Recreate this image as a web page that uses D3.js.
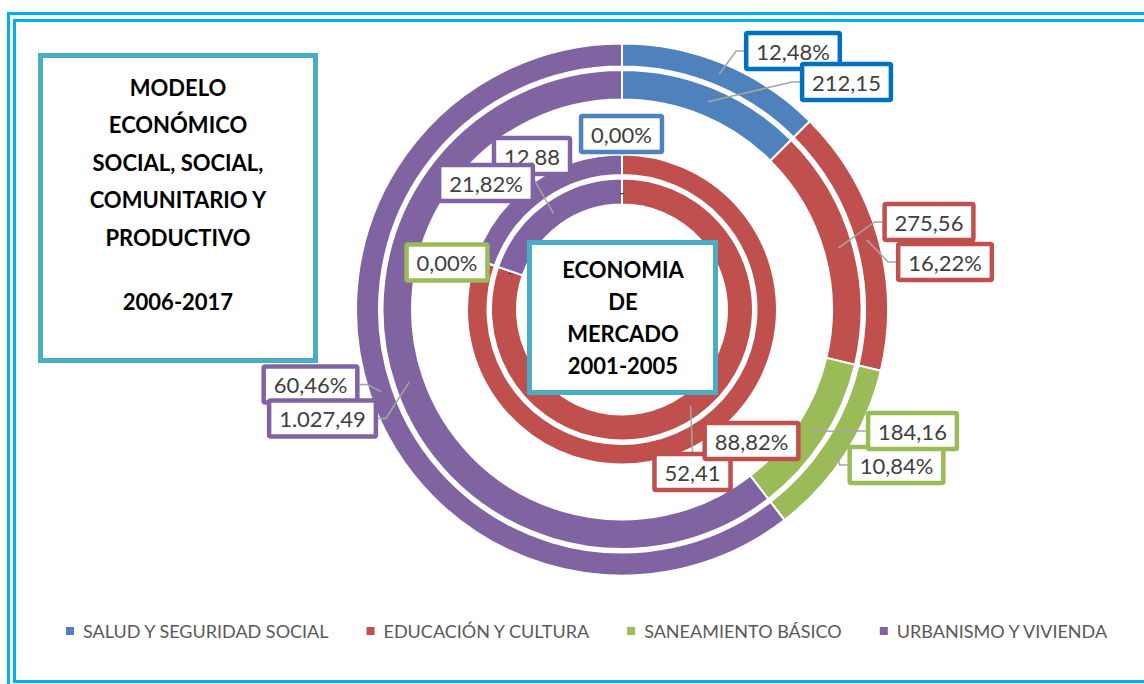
<!DOCTYPE html>
<html lang="es">
<head>
    <meta charset="UTF-8">
    <title>Modelo económico - doughnut</title>
    <script src="https://cdn.jsdelivr.net/npm/d3@7"></script>
    <style>
        html, body { margin: 0; padding: 0; background: #fff; }
        svg { display: block; }
    </style>
</head>
<body>
<div id="chart"></div>
<script>
    // categories and colours (Office palette)
    const categories = ['SALUD Y SEGURIDAD SOCIAL', 'EDUCACIÓN Y CULTURA', 'SANEAMIENTO BÁSICO', 'URBANISMO Y VIVIENDA'];
    const colors = ['#4F81BD', '#C0504D', '#9BBB59', '#8064A2'];

    // 2006-2017 (outer pair of rings)
    const pct2006 = [12.48, 16.22, 10.84, 60.46];
    const val2006 = [212.15, 275.56, 184.16, 1027.49];
    // 2001-2005 (inner pair of rings)
    const pct2001 = [0, 88.82, 0, 21.82];
    const val2001 = [0, 52.41, 0, 12.88];

    const titleLines = ['MODELO', 'ECONÓMICO', 'SOCIAL, SOCIAL,', 'COMUNITARIO Y', 'PRODUCTIVO', '2006-2017'];
    const centerLines = ['ECONOMIA', 'DE', 'MERCADO', '2001-2005'];

    const width = 1144, height = 684;
    const cx = 622, cy = 309.5;

    const svg = d3.select('#chart').append('svg')
        .attr('width', width)
        .attr('height', height);

    // double cyan frame
    svg.append('rect').attr('x', 8.5).attr('y', 13.5).attr('width', 1200).attr('height', 700)
        .attr('fill', 'none').attr('stroke', '#00B0F0').attr('stroke-width', 3);
    svg.append('rect').attr('x', 14.5).attr('y', 20.5).attr('width', 1200).attr('height', 661)
        .attr('fill', 'none').attr('stroke', '#00B0F0').attr('stroke-width', 3);

    const es = d3.formatLocale({decimal: ',', thousands: '.', grouping: [3], currency: ['', '']});
    const fmtNum = es.format(',.2f');
    const fmtPct = v => es.format('.2f')(v) + '%';

    // ring definitions: radii + data + label format
    const rings = [
        {key: 'p06', values: pct2006, r0: 243, r1: 266, fmt: fmtPct, boxColors: ['#0070C0', '#C0504D', '#9BBB59', '#8064A2']},
        {key: 'v06', values: val2006, r0: 210, r1: 239.5, fmt: fmtNum, boxColors: ['#0070C0', '#C0504D', '#9BBB59', '#8064A2']},
        {key: 'p01', values: pct2001, r0: 134.5, r1: 155, fmt: fmtPct, boxColors: colors},
        {key: 'v01', values: val2001, r0: 105, r1: 131, fmt: fmtNum, boxColors: colors}
    ];

    const pie = d3.pie().sort(null).value(d => d);

    const g = svg.append('g').attr('transform', `translate(${cx},${cy})`);

    rings.forEach(ring => {
        ring.arcs = pie(ring.values);
        ring.arc = d3.arc().innerRadius(ring.r0).outerRadius(ring.r1);
        ring.mid = d3.arc().innerRadius((ring.r0 + ring.r1) / 2).outerRadius((ring.r0 + ring.r1) / 2);
        g.append('g').selectAll('path')
            .data(ring.arcs)
            .join('path')
            .attr('d', ring.arc)
            .attr('fill', (d, i) => colors[i])
            .attr('stroke', '#fff')
            .attr('stroke-width', 2);
    });

    // label box placement (box centres, page coords)
    const labelPos = {
        p06: [[793, 51], [945, 262], [896.5, 465], [310.5, 384.5]],
        v06: [[846.5, 82], [929, 222], [912.5, 431], [322.5, 418.5]],
        p01: [[621.5, 134], [751.5, 441], [447, 262.5], [486, 183]],
        v01: [[null], [692.5, 472], [null], [532, 156]]
    };

    const labelFont = '22px Lato';
    const labels = svg.append('g');
    const lines = svg.append('g');

    // draw order as in the reference
    ['v01', 'p01', 'p06', 'v06'].forEach(k => {
        const ring = rings.find(r => r.key === k);
        ring.arcs.forEach((a, i) => {
            const c = ring.mid.centroid(a);
            const ax = cx + c[0], ay = cy + c[1];
            const pos = labelPos[k][i];
            if (ring.key[0] === 'v' && a.data === 0) {
                // zero value shown as a dash
                labels.append('text')
                    .attr('x', ax).attr('y', ay)
                    .attr('text-anchor', 'middle').attr('dominant-baseline', 'central')
                    .style('font', '16px Lato').attr('fill', '#404040')
                    .text('-');
                return;
            }
            const lg = labels.append('g');
            const t = lg.append('text')
                .attr('x', pos[0]).attr('y', pos[1])
                .attr('text-anchor', 'middle').attr('dominant-baseline', 'central')
                .style('font', labelFont).attr('fill', '#404040')
                .text(ring.fmt(a.data));
            const tw = t.node().getComputedTextLength();
            const bw = tw + 20, bh = 36;
            const bx = pos[0] - bw / 2, by = pos[1] - bh / 2;
            lg.insert('rect', 'text')
                .attr('x', bx).attr('y', by).attr('width', bw).attr('height', bh)
                .attr('fill', '#fff')
                .attr('stroke', ring.boxColors[i]).attr('stroke-width', 4.5)
                .attr('rx', 1.5);

            // leader line
            const bl = bx - 2, br = bx + bw + 2, bt = by - 2, bb = by + bh + 2;
            let pts = null;
            if (ax < bl) pts = [[ax, ay], [bl - 8, pos[1]], [bl, pos[1]]];
            else if (ax > br) pts = [[ax, ay], [br + 8, pos[1]], [br, pos[1]]];
            else if (ay < bt) pts = [[ax, ay], [pos[0], bt]];
            else if (ay > bb) pts = [[ax, ay], [pos[0], bb]];
            if (pts) {
                const last = pts[pts.length - 1];
                if (Math.hypot(last[0] - ax, last[1] - ay) > 16) {
                    lines.append('path')
                        .attr('d', d3.line()(pts))
                        .attr('fill', 'none')
                        .attr('stroke', '#A6A6A6')
                        .attr('stroke-width', 1.5);
                }
            }
        });
    });
    // label boxes sit above the leader lines
    labels.raise();

    // title box (left)
    svg.append('rect').attr('x', 40.5).attr('y', 55.5).attr('width', 275).attr('height', 305)
        .attr('fill', '#fff').attr('stroke', '#4BACC6').attr('stroke-width', 5);
    const titleY = [87, 124, 162, 199, 237, 301];
    svg.append('g').selectAll('text')
        .data(titleLines)
        .join('text')
        .attr('x', 178).attr('y', (d, i) => titleY[i])
        .attr('text-anchor', 'middle').attr('dominant-baseline', 'central')
        .style('font', 'bold 22px Lato').attr('fill', '#000')
        .text(d => d);

    // centre box
    svg.append('rect').attr('x', 529.5).attr('y', 242.5).attr('width', 186).attr('height', 150)
        .attr('fill', '#fff').attr('stroke', '#4BACC6').attr('stroke-width', 5);
    svg.append('g').selectAll('text')
        .data(centerLines)
        .join('text')
        .attr('x', 623).attr('y', (d, i) => 269 + i * 32)
        .attr('text-anchor', 'middle').attr('dominant-baseline', 'central')
        .style('font', 'bold 22px Lato').attr('fill', '#000')
        .text(d => d);

    // legend
    const legend = svg.append('g');
    let lx = 66;
    categories.forEach((c, i) => {
        const item = legend.append('g');
        item.append('rect').attr('x', lx).attr('y', 627).attr('width', 8).attr('height', 8).attr('fill', colors[i]);
        const t = item.append('text')
            .attr('x', lx + 17).attr('y', 631)
            .attr('dominant-baseline', 'central')
            .style('font', '18px Lato').attr('fill', '#595959')
            .text(c);
        lx += 17 + t.node().getComputedTextLength() + 38;
    });
</script>
</body>
</html>
